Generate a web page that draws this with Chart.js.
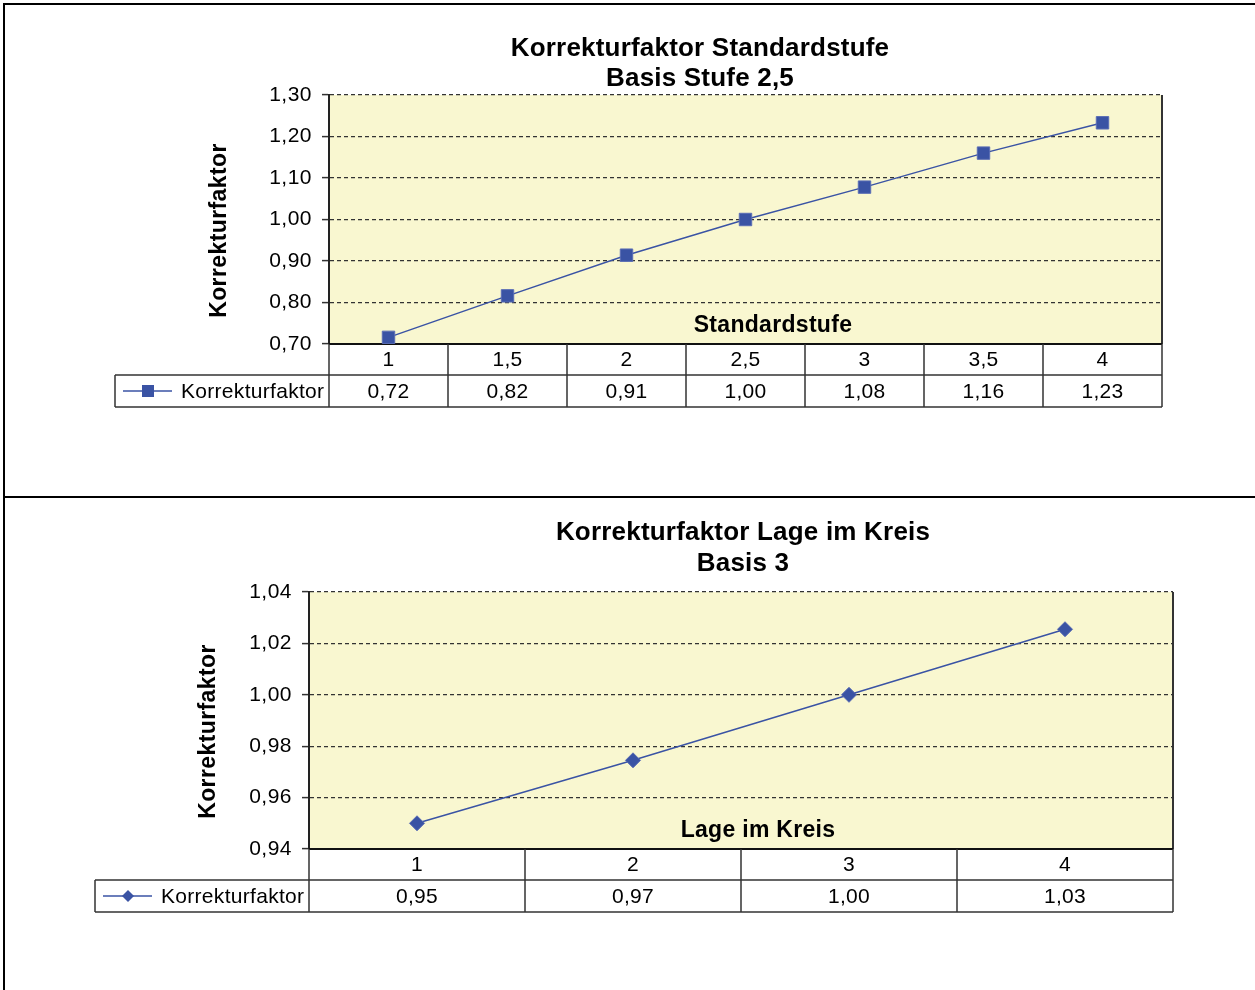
<!DOCTYPE html>
<html>
<head>
<meta charset="utf-8">
<script src="https://cdn.jsdelivr.net/npm/chart.js@4.4.0/dist/chart.umd.min.js"></script>
<style>
  body { margin: 0; background: #fff; width: 1255px; height: 990px; overflow: hidden; position: relative; }
  .frame { position: absolute; left: 3px; top: 3px; width: 1300px; height: 1100px; border-left: 2px solid #000; border-top: 2px solid #000; }
  .divider { position: absolute; left: 3px; top: 496px; width: 1300px; height: 2px; background: #000; }
  canvas { position: absolute; left: 0; }
</style>
</head>
<body>
<div class="frame"></div>
<div class="divider"></div>
<canvas id="chart1" style="top:0px"></canvas>
<canvas id="chart2" style="top:497px"></canvas>
<script>
// Daten Diagramm 1
const stufen = ['1', '1,5', '2', '2,5', '3', '3,5', '4'];
const faktorStufe = [0.716, 0.816, 0.914, 1.0, 1.078, 1.16, 1.233];
// Daten Diagramm 2
const lagen = ['1', '2', '3', '4'];
const faktorLage = [0.95, 0.9745, 1.0, 1.0255];

const serienName = 'Korrekturfaktor';
const blau = '#3A53A4';
const schrift = '"Liberation Sans", Arial, sans-serif';
const fmt = v => v.toFixed(2).replace('.', ',');

// Zeichensatz etwas breiter wie im Excel-Original
const abstand = {
  id: 'abstand',
  beforeLayout(c) { c.ctx.letterSpacing = '0.5px'; },
  beforeDraw(c) { c.ctx.letterSpacing = '0.5px'; }
};

// Hintergrund, Rahmen, Titel und Datentabelle
const extras = {
  id: 'extras',
  beforeDraw(c, args, o) {
    const a = c.chartArea, ctx = c.ctx;
    ctx.save();
    ctx.fillStyle = '#F9F7D0';
    ctx.fillRect(a.left, a.top, a.right - a.left, a.bottom - a.top);
    ctx.restore();
  },
  beforeDatasetsDraw(c, args, o) {
    const a = c.chartArea, ctx = c.ctx;
    ctx.save();
    ctx.strokeStyle = '#333';
    ctx.lineWidth = 2;
    ctx.beginPath();
    ctx.moveTo(a.right, a.top); ctx.lineTo(a.right, a.bottom);
    ctx.stroke();
    ctx.strokeStyle = '#111';
    ctx.beginPath();
    ctx.moveTo(a.left, a.bottom); ctx.lineTo(a.right, a.bottom);
    ctx.stroke();
    // x-Achsentitel im Diagramm
    ctx.letterSpacing = '0.3px';
    ctx.fillStyle = '#000';
    ctx.font = 'bold 23px ' + schrift;
    ctx.textAlign = 'center';
    ctx.textBaseline = 'middle';
    ctx.fillText(o.xTitle, o.xTitleX, a.bottom - 18);
    ctx.restore();
  },
  afterDraw(c, args, o) {
    const a = c.chartArea, ctx = c.ctx, x = c.scales.x;
    const labels = c.data.labels, werte = c.data.datasets[0].data;
    const n = labels.length, w = (a.right - a.left) / n;
    const r1 = a.bottom + 31, r2 = a.bottom + 63, legL = a.left - 214;
    ctx.save();
    ctx.letterSpacing = '0.2px';
    ctx.fillStyle = '#000';
    ctx.textAlign = 'center';
    ctx.textBaseline = 'middle';
    ctx.font = 'bold 26px ' + schrift;
    ctx.fillText(o.title[0], o.titleX, a.top - o.titleDy[0]);
    ctx.fillText(o.title[1], o.titleX, a.top - o.titleDy[1]);
    // y-Achsentitel
    ctx.save();
    ctx.letterSpacing = '0.4px';
    ctx.translate(o.yTitleX, (a.top + a.bottom) / 2 + 11);
    ctx.rotate(-Math.PI / 2);
    ctx.font = 'bold 23px ' + schrift;
    ctx.fillText(serienName, 0, 0);
    ctx.restore();
    // Tabelle
    ctx.strokeStyle = '#333';
    ctx.lineWidth = 1.5;
    ctx.beginPath();
    ctx.moveTo(legL, r1); ctx.lineTo(a.right, r1);
    ctx.moveTo(legL, r2); ctx.lineTo(a.right, r2);
    ctx.moveTo(legL, r1); ctx.lineTo(legL, r2);
    ctx.moveTo(a.left, a.bottom); ctx.lineTo(a.left, r2);
    for (let i = 0; i < n; i++) {
      const xr = x.getPixelForValue(i) + w / 2;
      ctx.moveTo(xr, a.bottom); ctx.lineTo(xr, r2);
    }
    ctx.stroke();
    ctx.letterSpacing = '0.3px';
    ctx.font = '21px ' + schrift;
    for (let i = 0; i < n; i++) {
      const cx = x.getPixelForValue(i);
      ctx.fillText(labels[i], cx, (a.bottom + r1) / 2 + 1);
      ctx.fillText(fmt(werte[i]), cx, (r1 + r2) / 2 + 1);
    }
    // Legende
    const ly = (r1 + r2) / 2;
    ctx.strokeStyle = blau;
    ctx.lineWidth = 1.5;
    ctx.beginPath();
    ctx.moveTo(legL + 8, ly); ctx.lineTo(legL + 57, ly);
    ctx.stroke();
    ctx.fillStyle = blau;
    if (o.marker === 'rect') {
      ctx.fillRect(legL + 27, ly - 6, 12, 12);
    } else {
      ctx.beginPath();
      ctx.moveTo(legL + 33, ly - 6); ctx.lineTo(legL + 39, ly);
      ctx.lineTo(legL + 33, ly + 6); ctx.lineTo(legL + 27, ly);
      ctx.closePath(); ctx.fill();
    }
    ctx.fillStyle = '#000';
    ctx.textAlign = 'left';
    ctx.fillText(serienName, legL + 66, ly + 1);
    ctx.restore();
  }
};

function baueDiagramm(id, labels, werte, cfg) {
  const el = document.getElementById(id);
  el.width = 1255; el.height = cfg.height;
  el.style.width = '1255px'; el.style.height = cfg.height + 'px';
  return new Chart(el, {
    type: 'line',
    data: {
      labels: labels,
      datasets: [{
        label: serienName,
        data: werte,
        borderColor: blau,
        borderWidth: 1.5,
        backgroundColor: blau,
        pointBackgroundColor: blau,
        pointBorderColor: '#5A6DB5',
        pointBorderWidth: 1,
        pointStyle: cfg.marker,
        pointRadius: cfg.radius,
        tension: 0
      }]
    },
    options: {
      responsive: false,
      animation: false,
      layout: { padding: cfg.padding },
      plugins: {
        legend: { display: false },
        tooltip: { enabled: false },
        extras: cfg.extras
      },
      scales: {
        x: { type: 'category', offset: true, display: false },
        y: {
          min: cfg.min, max: cfg.max,
          afterFit: s => { s.width = 80; },
          ticks: {
            stepSize: cfg.step,
            padding: 10,
            color: '#000',
            font: { family: schrift, size: 21 },
            callback: v => (Math.round(v * 100) % cfg.major === 0 ? fmt(v) : '')
          },
          grid: {
            color: ctx => (Math.round(ctx.tick.value * 100) % cfg.major === 0 ? '#333' : 'rgba(0,0,0,0)'),
            tickColor: '#333',
            tickLength: 7,
            lineWidth: 1.2,
            tickWidth: 1.5
          },
          border: { display: true, color: '#222', width: 2, dash: [4, 3] }
        }
      }
    },
    plugins: [abstand, extras]
  });
}

baueDiagramm('chart1', stufen, faktorStufe, {
  height: 497, marker: 'rect', radius: 8.8,
  min: 0.7, max: 1.3, step: 0.05, major: 10,
  padding: { left: 249, right: 93, top: 95, bottom: 153 },
  extras: { title: ['Korrekturfaktor Standardstufe', 'Basis Stufe 2,5'], titleDy: [46, 16], titleX: 700,
            yTitleX: 220, xTitle: 'Standardstufe', xTitleX: 773, marker: 'rect' }
});

baueDiagramm('chart2', lagen, faktorLage, {
  height: 493, marker: 'rectRot', radius: 7.5,
  min: 0.94, max: 1.04, step: 0.01, major: 2,
  padding: { left: 229, right: 82, top: 95, bottom: 141 },
  extras: { title: ['Korrekturfaktor Lage im Kreis', 'Basis 3'], titleDy: [59, 28], titleX: 743,
            yTitleX: 209, xTitle: 'Lage im Kreis', xTitleX: 758, marker: 'rectRot' }
});
</script>
</body>
</html>
